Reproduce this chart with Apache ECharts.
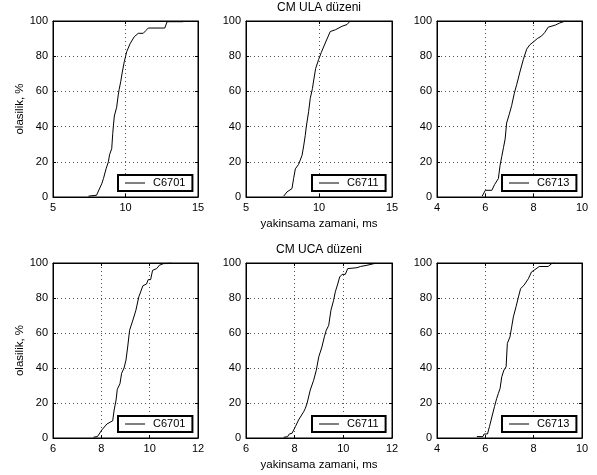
<!DOCTYPE html>
<html><head><meta charset="utf-8">
<script src="https://cdn.jsdelivr.net/npm/echarts@6/dist/echarts.min.js"></script>
<style>html,body{margin:0;padding:0;background:#fff}#c{width:597px;height:475px}</style>
</head><body><div id="c"></div>
<script>
// ---- data (x = convergence time in ms, y = probability %) ----
const ulaC6701 = [[7.45,0.5],[8.0,1],[8.13,2],[8.36,7.5],[8.48,10.5],[8.66,16],[8.82,20],[8.9,24],[9.05,27.5],[9.12,36],[9.16,40],[9.23,46],[9.39,51],[9.5,58],[9.56,61],[9.67,65.5],[9.78,71],[9.92,77],[10.08,82.5],[10.31,87],[10.6,91],[10.88,93],[11.22,93],[11.4,94.5],[11.57,96],[12.71,96],[12.87,99.6],[13.97,99.6]];
const ulaC6711 = [[7.58,0.5],[7.81,2.9],[8.15,4.8],[8.26,10.5],[8.38,16],[8.6,18.5],[8.84,23.7],[8.95,29],[9.06,35],[9.13,40],[9.29,48.5],[9.4,56],[9.55,61.6],[9.65,67],[9.77,73],[9.97,78],[10.15,82],[10.43,87.5],[10.77,94],[11.12,95],[11.58,97],[11.92,98],[12.14,100]];
const ulaC6713 = [[5.87,0.5],[6.0,3.8],[6.27,3.8],[6.38,7],[6.54,10.5],[6.61,18],[6.68,23],[6.75,28],[6.82,33],[6.88,42],[6.99,47],[7.09,52],[7.2,59],[7.3,64],[7.43,71],[7.57,78],[7.71,84],[7.84,86.5],[7.98,88],[8.15,90],[8.33,91.5],[8.46,93.5],[8.6,96.5],[8.9,97.7],[9.08,98.9],[9.32,100]];
const ucaC6701 = [[7.68,0.5],[7.84,0.8],[8.02,4.6],[8.23,8],[8.36,9],[8.47,9.8],[8.53,16],[8.61,21.7],[8.66,27.8],[8.77,31],[8.84,37],[8.94,40],[9.02,44.5],[9.09,52],[9.17,61.6],[9.32,68],[9.43,73],[9.55,80.6],[9.72,87],[9.87,88],[9.94,90.5],[10.04,90.5],[10.12,95.8],[10.29,96.8],[10.4,98.7],[10.56,99.6],[10.9,100]];
const ucaC6711 = [[7.55,0.4],[7.71,0.8],[7.78,2.3],[7.89,2.7],[8.03,6.5],[8.16,10.3],[8.37,15],[8.44,17],[8.51,19.8],[8.64,27.4],[8.78,33],[8.89,38.8],[8.99,46.4],[9.12,52],[9.22,57.8],[9.3,61.6],[9.4,64.4],[9.49,73],[9.6,78.7],[9.67,83.5],[9.77,88],[9.85,92],[9.95,93.5],[10.08,93.5],[10.18,96.8],[10.56,97.3],[10.7,98],[10.97,98.7],[11.25,99.6],[11.29,100]];
const ucaC6713 = [[5.65,0.8],[5.9,0.8],[5.95,2.3],[6.09,2.3],[6.17,6.5],[6.27,12],[6.38,18],[6.47,22.6],[6.54,25.5],[6.61,28.3],[6.68,35],[6.77,38.8],[6.86,40.7],[6.91,54],[7.02,57.8],[7.09,63.5],[7.16,69.2],[7.27,75],[7.37,80.6],[7.46,85.4],[7.6,87.3],[7.78,91],[7.91,94.9],[8.05,96.2],[8.23,98],[8.6,98],[8.74,99.6],[8.88,100]];

const seriesNames = ['C6701','C6711','C6713','C6701','C6711','C6713'];
const seriesData = [ulaC6701, ulaC6711, ulaC6713, ucaC6701, ucaC6711, ucaC6713];
const xRanges = [[5,15,5],[5,15,5],[4,10,2],[6,12,2],[6,12,2],[4,10,2]];
const yRange = [0,100,20];
const rowTitles = ['CM ULA düzeni','CM UCA düzeni'];
const xLabelText = 'yakinsama zamani, ms';
const yLabelText = 'olasilik, %';

// ---- layout ----
const FONT = 'Liberation Sans, Arial, Helvetica, sans-serif';
const cols = [{l:53,w:145},{l:246,w:146},{l:437,w:145}];
const rows = [{t:21,h:176},{t:263,h:175}];

const grid=[], xAxis=[], yAxis=[], series=[], legend=[];
for (let i=0;i<6;i++){
  const c = cols[i%3], r = rows[Math.floor(i/3)];
  grid.push({left:c.l, top:r.t, width:c.w, height:r.h, show:true, borderColor:'#000', borderWidth:1, containLabel:false});
  const xr = xRanges[i];
  const common = {type:'value', gridIndex:i};
  xAxis.push(Object.assign({}, common, {position:'bottom', min:xr[0], max:xr[1], interval:xr[2],
    axisLine:{show:true, onZero:false, lineStyle:{color:'#000',width:1}},
    axisTick:{show:true, inside:true, length:3, lineStyle:{color:'#000'}},
    axisLabel:{color:'#000', fontSize:11, fontFamily:FONT, margin:5},
    splitLine:{show:true, lineStyle:{color:'#555', type:[1,3], width:1}}}));
  xAxis.push(Object.assign({}, common, {position:'top', min:xr[0], max:xr[1], interval:xr[2],
    axisLine:{show:true, onZero:false, lineStyle:{color:'#000'}},
    axisTick:{show:true, inside:true, length:3, lineStyle:{color:'#000'}},
    axisLabel:{show:false}, splitLine:{show:false}}));
  yAxis.push(Object.assign({}, common, {position:'left', min:yRange[0], max:yRange[1], interval:yRange[2],
    axisLine:{show:true, onZero:false, lineStyle:{color:'#000'}},
    axisTick:{show:true, inside:true, length:3, lineStyle:{color:'#000'}},
    axisLabel:{color:'#000', fontSize:11, fontFamily:FONT, margin:5},
    splitLine:{show:true, lineStyle:{color:'#555', type:[1,3], width:1}}}));
  yAxis.push(Object.assign({}, common, {position:'right', min:yRange[0], max:yRange[1], interval:yRange[2],
    axisLine:{show:true, onZero:false, lineStyle:{color:'#000'}},
    axisTick:{show:true, inside:true, length:3, lineStyle:{color:'#000'}},
    axisLabel:{show:false}, splitLine:{show:false}}));
  series.push({type:'line', name:seriesNames[i], xAxisIndex:2*i, yAxisIndex:2*i,
    data:seriesData[i], symbol:'none', showSymbol:false, smooth:false,
    lineStyle:{color:'#000', width:1}, itemStyle:{color:'#000'}, z:3});
  legend.push({data:[seriesNames[i]], selectedMode:false, orient:'horizontal',
    left:c.l + c.w - 80, top:r.t + r.h - 22,
    backgroundColor:'#fff', borderColor:'#000', borderWidth:2, borderRadius:0,
    padding:[2,7,2,7], icon:'rect', itemWidth:20, itemHeight:1, itemGap:4,
    itemStyle:{color:'#000', borderWidth:0},
    textStyle:{color:'#000', fontSize:11, fontFamily:FONT, lineHeight:12, padding:[0,0,0,3]}});
}

const graphic = [];
rowTitles.forEach((t,k)=>{
  const r = rows[k];
  graphic.push({type:'text', x:319, y:r.t-13, style:{text:t, fill:'#000', font:'12px '+FONT, textAlign:'center', textVerticalAlign:'middle'}});
  graphic.push({type:'text', x:319, y:r.t+r.h+27, style:{text:xLabelText, fill:'#000', font:'11.5px '+FONT, textAlign:'center', textVerticalAlign:'middle'}});
  graphic.push({type:'text', x:20, y:r.t+r.h/2, rotation:Math.PI/2, style:{text:yLabelText, fill:'#000', font:'11.5px '+FONT, textAlign:'center', textVerticalAlign:'middle'}});
});

const chart = echarts.init(document.getElementById('c'), null, {renderer:'canvas'});
chart.setOption({animation:false, backgroundColor:'#fff', grid, xAxis, yAxis, series, legend, graphic});
</script></body></html>
